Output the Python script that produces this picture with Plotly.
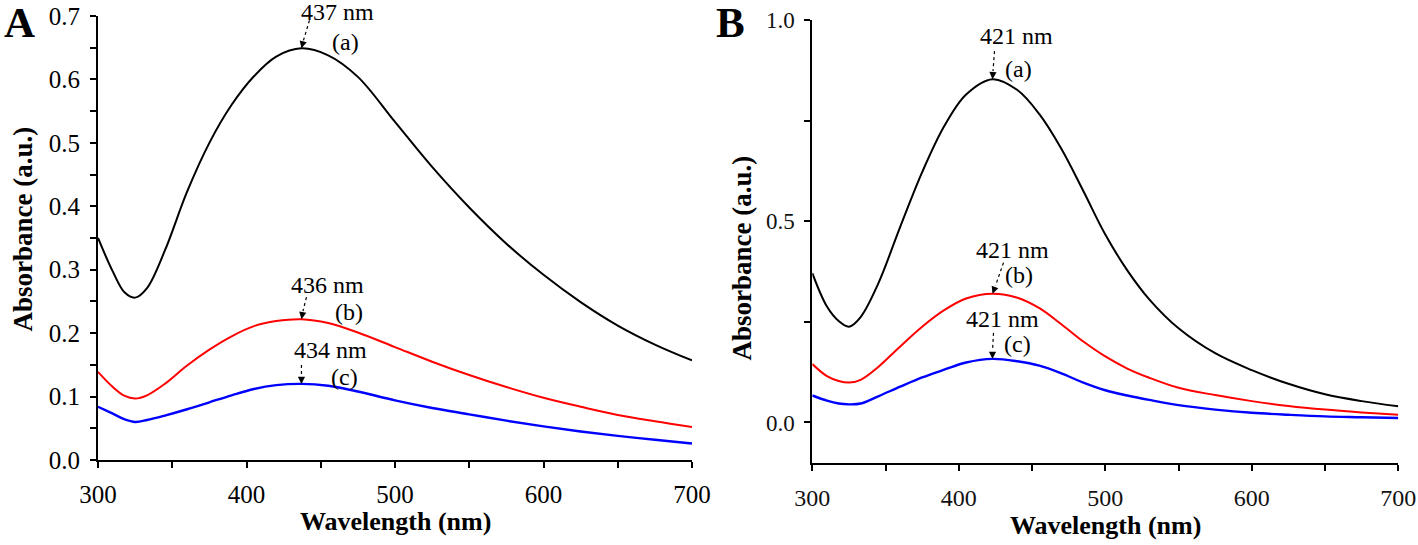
import plotly.graph_objects as go

# ---------------- data ----------------
wl_A = [300, 310, 318, 325, 333, 345, 360, 375, 390, 405, 420, 437, 455, 475,
        500, 525, 550, 575, 600, 625, 650, 675, 700]
abs_A_a = [0.350, 0.297, 0.264, 0.256, 0.271, 0.330, 0.423, 0.500, 0.560, 0.605,
           0.636, 0.649, 0.638, 0.604, 0.533, 0.462, 0.398, 0.341, 0.292, 0.249,
           0.212, 0.182, 0.157]
abs_A_b = [0.139, 0.115, 0.101, 0.097, 0.102, 0.120, 0.149, 0.174, 0.195, 0.211,
           0.219, 0.222, 0.216, 0.201, 0.178, 0.155, 0.134, 0.115, 0.098, 0.084,
           0.071, 0.061, 0.052]
abs_A_c = [0.084, 0.073, 0.064, 0.060, 0.063, 0.070, 0.080, 0.091, 0.102, 0.112,
           0.118, 0.120, 0.117, 0.108, 0.094, 0.082, 0.072, 0.062, 0.053, 0.045,
           0.038, 0.032, 0.026]

wl_B = [300, 310, 318, 325, 333, 345, 360, 375, 390, 405, 423, 440, 455, 470,
        485, 500, 515, 530, 550, 575, 600, 625, 650, 675, 700]
abs_B_a = [0.371, 0.288, 0.252, 0.238, 0.262, 0.345, 0.486, 0.622, 0.736, 0.815,
           0.853, 0.826, 0.766, 0.680, 0.575, 0.467, 0.378, 0.306, 0.234, 0.172,
           0.130, 0.096, 0.070, 0.053, 0.040]
abs_B_b = [0.145, 0.115, 0.103, 0.099, 0.106, 0.138, 0.189, 0.238, 0.279, 0.308,
           0.320, 0.310, 0.284, 0.244, 0.201, 0.164, 0.134, 0.111, 0.086, 0.068,
           0.053, 0.041, 0.032, 0.025, 0.019]
abs_B_c = [0.067, 0.054, 0.047, 0.045, 0.047, 0.065, 0.089, 0.112, 0.131, 0.149,
           0.158, 0.152, 0.141, 0.122, 0.099, 0.080, 0.067, 0.056, 0.043, 0.032,
           0.024, 0.019, 0.015, 0.013, 0.011]

peak_labels_A = ["437 nm", "436 nm", "434 nm"]
peak_labels_B = ["421 nm", "421 nm", "421 nm"]
curve_letters = ["(a)", "(b)", "(c)"]
x_ticks = [300, 400, 500, 600, 700]
yA_ticks = [0.0, 0.1, 0.2, 0.3, 0.4, 0.5, 0.6, 0.7]
yB_ticks = [0.0, 0.5, 1.0]

# ---------------- layout helpers ----------------
W, H = 1418, 545
def px(x):
    return x / W
def py(y):
    return 1 - y / H

FONT = "Liberation Serif, Times New Roman, serif"
colors = ["#000000", "#ff0000", "#0000ff"]
widths = [2, 2, 2.4]

fig = go.Figure()
for vals, c, w in zip([abs_A_a, abs_A_b, abs_A_c], colors, widths):
    fig.add_trace(go.Scatter(x=wl_A, y=vals, mode="lines", xaxis="x", yaxis="y",
                             line=dict(color=c, width=w, shape="spline", smoothing=1.0),
                             showlegend=False, hoverinfo="skip"))
for vals, c, w in zip([abs_B_a, abs_B_b, abs_B_c], colors, widths):
    fig.add_trace(go.Scatter(x=wl_B, y=vals, mode="lines", xaxis="x2", yaxis="y2",
                             line=dict(color=c, width=w, shape="spline", smoothing=1.0),
                             showlegend=False, hoverinfo="skip"))

common = dict(showline=True, linecolor="black", linewidth=2, ticks="outside",
              ticklen=6, tickwidth=2, tickcolor="black", showgrid=False,
              zeroline=False, mirror=False, automargin=False)

fig.update_layout(
    template="none",
    width=W, height=H, margin=dict(l=0, r=0, t=0, b=0, pad=0), autosize=False,
    paper_bgcolor="white", plot_bgcolor="white",
    font=dict(family=FONT, color="black"),
    xaxis=dict(domain=[px(98), px(692)], range=[300, 700], tickvals=x_ticks,
               anchor="y", tickfont=dict(family=FONT, size=25, color="black"),
               ticklabelstandoff=5,
               minor=dict(dtick=50, tick0=300, ticks="outside", ticklen=6,
                          tickwidth=2, tickcolor="black", showgrid=False), **common),
    yaxis=dict(domain=[py(460), py(16)], range=[0, 0.7], tickvals=yA_ticks,
               tickformat=".1f", anchor="x",
               tickfont=dict(family=FONT, size=25, color="black"),
               ticklabelstandoff=5,
               minor=dict(dtick=0.05, tick0=0, ticks="outside", ticklen=6,
                          tickwidth=2, tickcolor="black", showgrid=False), **common),
    xaxis2=dict(domain=[px(812.3), px(1398.3)], range=[300, 700], tickvals=x_ticks,
                anchor="y2", tickfont=dict(family=FONT, size=24, color="#111"),
                ticklabelstandoff=6,
                minor=dict(dtick=50, tick0=300, ticks="outside", ticklen=6,
                           tickwidth=2, tickcolor="black", showgrid=False), **common),
    yaxis2=dict(domain=[py(462.7), py(20)], range=[-0.1, 1.0], tickvals=yB_ticks,
                tickformat=".1f", anchor="x2",
                tickfont=dict(family=FONT, size=23, color="#111"),
                ticklabelstandoff=5,
                minor=dict(tickvals=[0.25, 0.75], ticks="outside", ticklen=6,
                           tickwidth=2, tickcolor="black", showgrid=False), **common),
)

ann = []
shapes = []
def paper_text(text, x, y, size, angle=0):
    ann.append(dict(text=text, x=px(x), y=py(y), xref="paper", yref="paper",
                    xanchor="center", yanchor="middle", showarrow=False,
                    textangle=angle, font=dict(family=FONT, size=size, color="black")))

# panel letters
paper_text("<b>A</b>", 19, 22, 43)
paper_text("<b>B</b>", 730, 22, 43)
# axis titles
paper_text("<b>Absorbance (a.u.)</b>", 22.5, 229, 27, -90)
paper_text("<b>Absorbance (a.u.)</b>", 741.5, 258, 27, -90)
paper_text("<b>Wavelength (nm)</b>", 395, 521, 26)
paper_text("<b>Wavelength (nm)</b>", 1105, 525, 26)

# peak annotations: offsets in screen pixels (dx, dy downward) relative to the peak
def add_peak(xr, yr, wl, vals, label, letter, t_off, l_off, d_from, h_from):
    i = max(range(len(vals)), key=lambda k: vals[k])
    tx, ty = wl[i], vals[i]
    for txt, off in [(label, t_off), (letter, l_off)]:
        ann.append(dict(text=txt, x=tx, y=ty, xref=xr, yref=yr, showarrow=False,
                        xanchor="center", yanchor="middle",
                        xshift=off[0], yshift=-off[1],
                        font=dict(family=FONT, size=24, color="black")))
    shapes.append(dict(type="line", xref=xr, yref=yr, xsizemode="pixel",
                       ysizemode="pixel", xanchor=tx, yanchor=ty,
                       x0=d_from[0], y0=-d_from[1], x1=h_from[0], y1=-h_from[1],
                       line=dict(color="black", width=1.2, dash="dot")))
    ann.append(dict(text="", x=tx, y=ty, xref=xr, yref=yr, showarrow=True,
                    ax=h_from[0], ay=h_from[1], arrowhead=2, arrowsize=1.2,
                    arrowwidth=1.2, arrowcolor="black", standoff=0))

specA = [((36, -36), (44, -6), (8, -28), (2, -8)),
         ((26, -34), (48, -7), (5, -22), (1.5, -8)),
         ((29, -34), (43, -7), (0, -19), (0, -8))]
specB = [((23.5, -43), (26, -10), (2, -28), (0.5, -8)),
         ((20, -44), (26, -19), (11, -31), (3, -8)),
         ((10, -40), (25, -15), (1, -26), (0, -8))]
for vals, lab, let, sp in zip([abs_A_a, abs_A_b, abs_A_c], peak_labels_A, curve_letters, specA):
    add_peak("x", "y", wl_A, vals, lab, let, *sp)
for vals, lab, let, sp in zip([abs_B_a, abs_B_b, abs_B_c], peak_labels_B, curve_letters, specB):
    add_peak("x2", "y2", wl_B, vals, lab, let, *sp)

fig.update_layout(annotations=ann, shapes=shapes)
# remove the default 8px page margin so the figure sits at the window corner
fig.write_html("out.html", config={"displayModeBar": False, "staticPlot": True},
               post_script="document.body.style.margin='0';document.body.style.overflow='hidden';")
